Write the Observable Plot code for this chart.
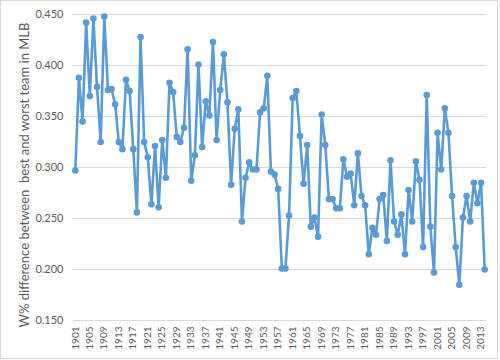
<!DOCTYPE html>
<html>
<head>
<meta charset="utf-8">
<script src="https://cdn.jsdelivr.net/npm/d3@7"></script>
<script src="https://cdn.jsdelivr.net/npm/@observablehq/plot@0.6"></script>
<style>
  html, body { margin: 0; padding: 0; background: #fff; }
  #chart { position: relative; width: 500px; height: 360px; }
</style>
</head>
<body>
<div id="chart"></div>
<script>
const startYear = 1901;
const values = [
  0.297, 0.388, 0.345, 0.442, 0.370, 0.446, 0.379, 0.325, 0.448, 0.376, // 1901-1910
  0.377, 0.362, 0.325, 0.318, 0.386, 0.375, 0.318, 0.256, 0.428, 0.325, // 1911-1920
  0.310, 0.264, 0.321, 0.261, 0.327, 0.290, 0.383, 0.374, 0.330, 0.325, // 1921-1930
  0.339, 0.416, 0.287, 0.312, 0.401, 0.320, 0.365, 0.351, 0.423, 0.327, // 1931-1940
  0.376, 0.411, 0.364, 0.283, 0.338, 0.357, 0.247, 0.290, 0.305, 0.298, // 1941-1950
  0.298, 0.354, 0.358, 0.390, 0.296, 0.293, 0.279, 0.201, 0.201, 0.253, // 1951-1960
  0.368, 0.375, 0.331, 0.284, 0.322, 0.242, 0.251, 0.232, 0.352, 0.322, // 1961-1970
  0.269, 0.269, 0.260, 0.260, 0.308, 0.291, 0.294, 0.263, 0.314, 0.272, // 1971-1980
  0.263, 0.215, 0.241, 0.234, 0.269, 0.273, 0.228, 0.307, 0.247, 0.234, // 1981-1990
  0.254, 0.215, 0.278, 0.247, 0.306, 0.288, 0.222, 0.371, 0.242, 0.197, // 1991-2000
  0.334, 0.298, 0.358, 0.334, 0.272, 0.222, 0.185, 0.251, 0.272, 0.247, // 2001-2010
  0.285, 0.265, 0.285, 0.200                                            // 2011-2014
];
const years = values.map((_, i) => startYear + i);
const xTickYears = [1901,1905,1909,1913,1917,1921,1925,1929,1933,1937,1941,1945,1949,1953,1957,1961,1965,1969,1973,1977,1981,1985,1989,1993,1997,2001,2005,2009,2013];
const yTicks = [0.15, 0.20, 0.25, 0.30, 0.35, 0.40, 0.45];
const yLabel = "W% difference between  best and worst team in MLB";

const data = years.map((year, i) => ({year, value: values[i]}));
const blue = "#5b9bd5";
const gray = "#595959";

const plot = Plot.plot({
  width: 500,
  height: 360,
  marginLeft: 73,
  marginRight: 14,
  marginTop: 14,
  marginBottom: 40,
  style: {fontFamily: "Lato, 'Open Sans', sans-serif", color: gray, background: "#fff"},
  x: {domain: [startYear - 0.5, years[years.length - 1] + 0.5]},
  y: {domain: [0.15, 0.45]},
  marks: [
    Plot.gridY(yTicks, {stroke: "#d9d9d9", strokeOpacity: 1, strokeWidth: 1}),
    Plot.axisY(yTicks, {
      tickSize: 0, tickPadding: 10, fontSize: 11, fill: gray,
      tickFormat: d3.format(".3f"), label: null
    }),
    Plot.axisX(xTickYears, {
      tickSize: 0, tickPadding: 6, tickRotate: -90, fontSize: 10, fill: gray,
      tickFormat: d => String(d), label: null
    }),
    Plot.text([yLabel], {
      text: d => d, frameAnchor: "left", rotate: -90, dx: -49, dy: 7.5,
      fontSize: 13, fill: gray, textAnchor: "middle", lineAnchor: "middle"
    }),
    Plot.line(data, {x: "year", y: "value", stroke: blue, strokeWidth: 2.6, strokeLinejoin: "round"}),
    Plot.dot(data, {x: "year", y: "value", fill: blue, r: 3.3, stroke: "none"})
  ]
});

d3.select(plot).append("rect")
  .attr("x", 0.5).attr("y", 0.5).attr("width", 497).attr("height", 358)
  .attr("fill", "none").attr("stroke", "#d9d9d9");

document.getElementById("chart").appendChild(plot);
</script>
</body>
</html>
